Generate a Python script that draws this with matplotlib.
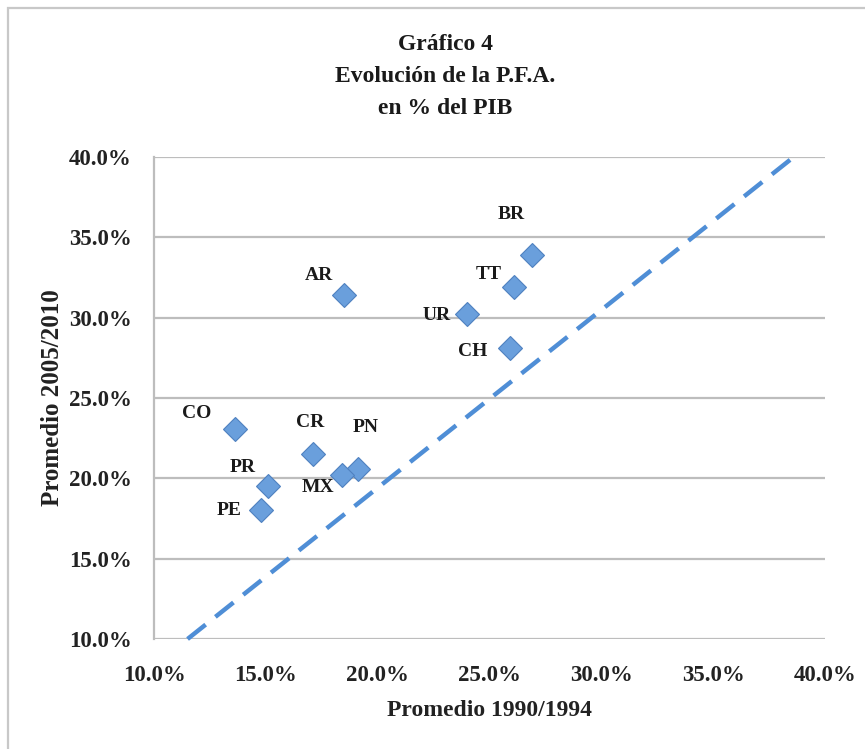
import matplotlib
matplotlib.use("Agg")
import matplotlib.pyplot as plt
from matplotlib.ticker import FuncFormatter, MultipleLocator
from matplotlib.patches import Rectangle

# ---- data ----
countries = ["CO", "CR", "PN", "MX", "PR", "PE", "AR", "BR", "TT", "UR", "CH"]
prom_1990_1994 = [13.6, 17.1, 19.1, 18.4, 15.1, 14.8, 18.5, 26.9, 26.1, 24.0, 25.9]
prom_2005_2010 = [23.1, 21.5, 20.6, 20.2, 19.5, 18.0, 31.4, 33.9, 31.9, 30.2, 28.1]
ref_line_x = [11.5, 38.6]
ref_line_y = [10.0, 40.0]
title_lines = ["Gráfico 4", "Evolución de la P.F.A.", "en % del PIB"]
x_label = "Promedio 1990/1994"
y_label = "Promedio 2005/2010"

# label offsets in pixels (layout)
label_offsets = {
    "CO": (-38, 15), "CR": (-3, 32), "PN": (8, 41), "MX": (-24, -12),
    "PR": (-25, 19), "PE": (-32, 0), "AR": (-25, 20), "BR": (-21, 41),
    "TT": (-25, 13), "UR": (-30, -1), "CH": (-37, -3),
}

plt.rcParams["font.family"] = ["Liberation Serif", "DejaVu Serif"]
W, H = 865, 749
fig = plt.figure(figsize=(W / 100, H / 100), dpi=100)
fig.patch.set_facecolor("white")

# outer frame
fig.patches.append(Rectangle((8 / W, -0.05), 1.2, 1 - 8 / H + 0.05,
                             transform=fig.transFigure, fill=False,
                             edgecolor="#c8c8c8", linewidth=1.6))

ax = fig.add_axes([154 / W, 1 - 639 / H, (825 - 154) / W, (639 - 157) / H])
ax.set_xlim(10, 40)
ax.set_ylim(10, 40)
ax.xaxis.set_major_locator(MultipleLocator(5))
ax.yaxis.set_major_locator(MultipleLocator(5))
fmt = FuncFormatter(lambda v, p: f"{v:.1f}%")
ax.xaxis.set_major_formatter(fmt)
ax.yaxis.set_major_formatter(fmt)
ax.grid(axis="y", color="#bdbdbd", linewidth=1.6)
ax.set_axisbelow(True)
for s in ["top", "right", "bottom"]:
    ax.spines[s].set_visible(False)
ax.spines["left"].set_color("#bdbdbd")
ax.spines["left"].set_linewidth(1.6)
ax.tick_params(length=0, labelsize=16.5, colors="#222222")
ax.tick_params(axis="x", pad=19)
ax.tick_params(axis="y", pad=16)
for lab in ax.get_xticklabels() + ax.get_yticklabels():
    lab.set_fontweight("bold")

ax.plot(ref_line_x, ref_line_y, color="#4f8ed6", linewidth=3.2,
        dashes=(5.2, 2.8), solid_capstyle="butt", zorder=2, clip_on=False)

ax.plot(prom_1990_1994, prom_2005_2010, linestyle="none", marker="D",
        markersize=12.5, markerfacecolor="#6a9fdc", markeredgecolor="#4f81c0",
        markeredgewidth=0.8, zorder=3)

for c, xv, yv in zip(countries, prom_1990_1994, prom_2005_2010):
    dx, dy = label_offsets[c]
    ax.annotate(c, (xv, yv), xytext=(dx, dy), textcoords="offset pixels",
                ha="center", va="center", fontsize=14, fontweight="bold",
                color="#1a1a1a")

ax.set_xlabel(x_label, fontsize=17, fontweight="bold", color="#222222")
ax.set_ylabel(y_label, fontsize=18, fontweight="bold", color="#222222")
ax.xaxis.set_label_coords(0.5, -(710 - 639) / (639 - 157), transform=ax.transAxes)
ax.yaxis.set_label_coords(-(154 - 53) / (825 - 154), 0.5, transform=ax.transAxes)
ax.xaxis.label.set_va("center")
ax.yaxis.label.set_va("center")

for i, t in enumerate(title_lines):
    fig.text(445 / W, 1 - (45 + 32 * i) / H, t, ha="center", va="center",
             fontsize=17, fontweight="bold", color="#1a1a1a")

fig.savefig("out.png", dpi=100, facecolor="white")
